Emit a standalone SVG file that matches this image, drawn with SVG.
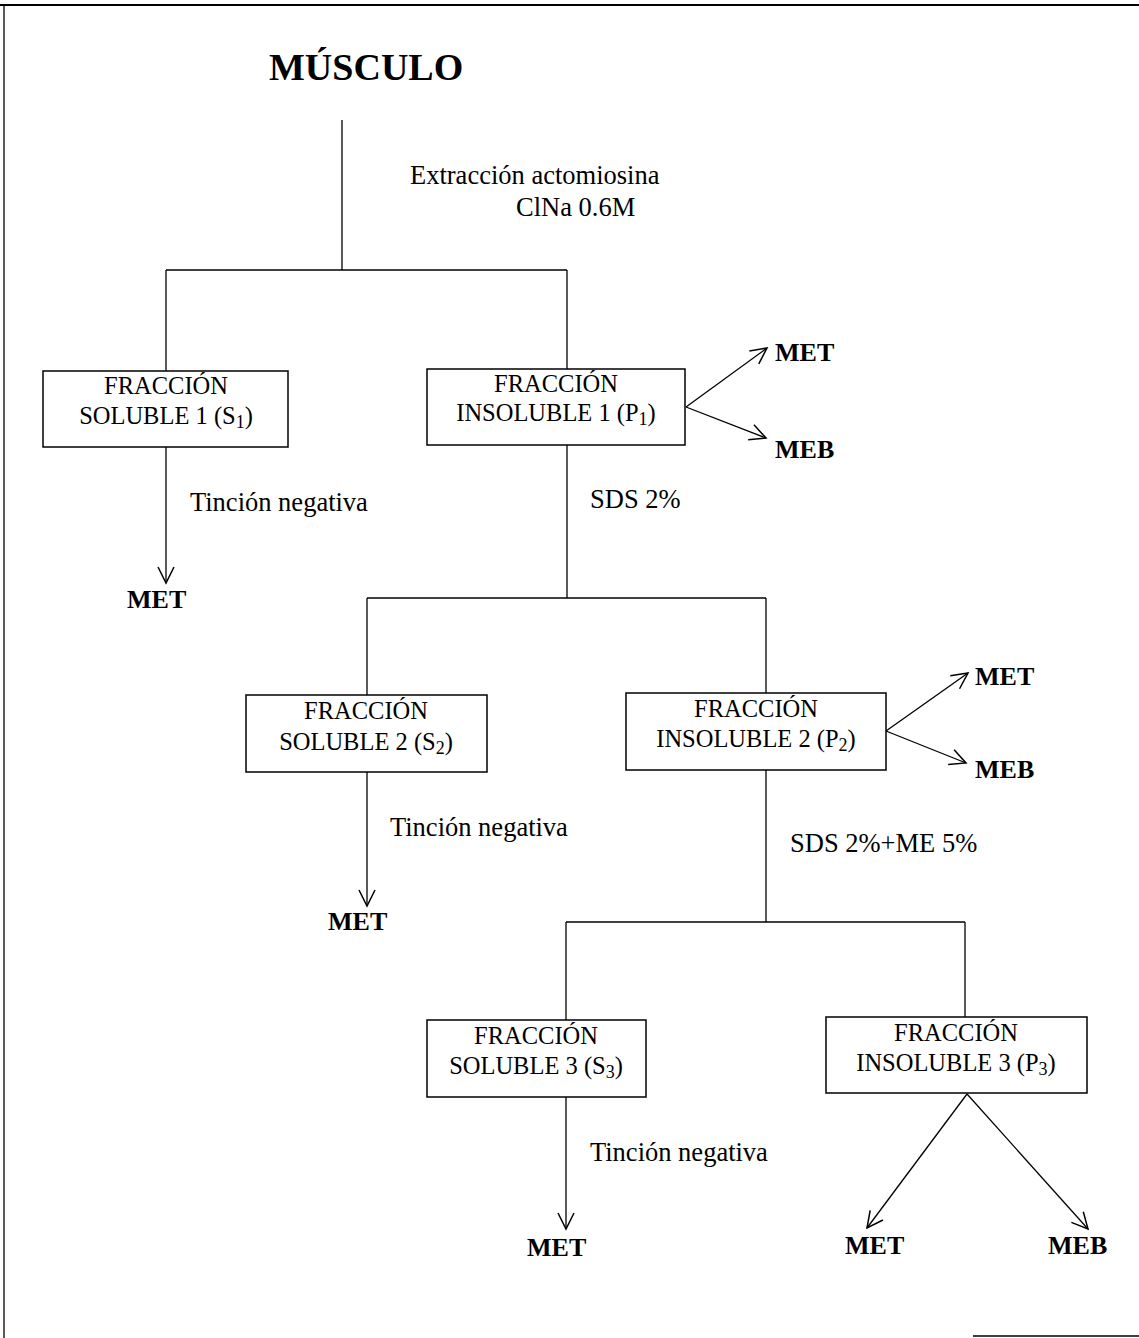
<svg xmlns="http://www.w3.org/2000/svg" width="1139" height="1338" viewBox="0 0 1139 1338">
<defs>
<marker id="ah" viewBox="0 0 20 20" refX="18" refY="10" markerWidth="20" markerHeight="20" markerUnits="userSpaceOnUse" orient="auto">
<path d="M2,2 L18,10 L2,18" fill="none" stroke="#000" stroke-width="1.5"/>
</marker>
<style>
.t{font-family:"Liberation Serif","Times New Roman",serif;font-size:26.5px;fill:#000}
.bx{font-family:"Liberation Serif","Times New Roman",serif;font-size:24.5px;fill:#000}
.b{font-family:"Liberation Serif","Times New Roman",serif;font-size:26px;font-weight:bold;fill:#000}
.box{fill:#fff;stroke:#000;stroke-width:1.5}
.ln{stroke:#000;stroke-width:1.3;fill:none}
.ar{stroke:#000;stroke-width:1.3;fill:none;marker-end:url(#ah)}
.sub{font-size:18px}
</style>
</defs>
<rect width="1139" height="1338" fill="#fff"/>
<g id="border" stroke="#000" fill="none">
<line x1="0" y1="5" x2="1139" y2="5" stroke-width="2"/>
<line x1="4" y1="5" x2="4" y2="1338" stroke-width="1.3"/>
<line x1="973" y1="1336" x2="1139" y2="1336" stroke-width="1.3"/>
</g>
<g id="connectors">
<line class="ln" x1="342" y1="120" x2="342" y2="270"/>
<line class="ln" x1="166" y1="270" x2="567" y2="270"/>
<line class="ln" x1="166" y1="270" x2="166" y2="371"/>
<line class="ln" x1="567" y1="270" x2="567" y2="369"/>
<line class="ar" x1="686" y1="407" x2="767" y2="348"/>
<line class="ar" x1="686" y1="407" x2="766" y2="438"/>
<line class="ar" x1="166" y1="447" x2="166" y2="583"/>
<line class="ln" x1="567" y1="445" x2="567" y2="598"/>
<line class="ln" x1="367" y1="598" x2="766" y2="598"/>
<line class="ln" x1="367" y1="598" x2="367" y2="695"/>
<line class="ln" x1="766" y1="598" x2="766" y2="693"/>
<line class="ar" x1="886" y1="731" x2="968" y2="673"/>
<line class="ar" x1="886" y1="731" x2="966" y2="763"/>
<line class="ar" x1="367" y1="772" x2="367" y2="906"/>
<line class="ln" x1="766" y1="770" x2="766" y2="922"/>
<line class="ln" x1="566" y1="922" x2="965" y2="922"/>
<line class="ln" x1="566" y1="922" x2="566" y2="1020"/>
<line class="ln" x1="965" y1="922" x2="965" y2="1017"/>
<line class="ar" x1="566" y1="1097" x2="566" y2="1229"/>
<line class="ar" x1="967" y1="1094" x2="867" y2="1228"/>
<line class="ar" x1="967" y1="1094" x2="1088" y2="1229"/>
</g>
<g id="labels">
<text class="b" x="269" y="80" style="font-size:38px">MÚSCULO</text>
<text class="t" x="410" y="184">Extracción actomiosina</text>
<text class="t" x="516" y="216">ClNa 0.6M</text>
<text class="t" x="190" y="511">Tinción negativa</text>
<text class="t" x="590" y="508">SDS 2%</text>
<text class="t" x="390" y="836">Tinción negativa</text>
<text class="t" x="790" y="852">SDS 2%+ME 5%</text>
<text class="t" x="590" y="1161">Tinción negativa</text>
<text class="b" x="775" y="361">MET</text>
<text class="b" x="775" y="458">MEB</text>
<text class="b" x="127" y="608">MET</text>
<text class="b" x="975" y="685">MET</text>
<text class="b" x="975" y="778">MEB</text>
<text class="b" x="328" y="930">MET</text>
<text class="b" x="527" y="1256">MET</text>
<text class="b" x="845" y="1254">MET</text>
<text class="b" x="1048" y="1254">MEB</text>
</g>
<g id="s1">
<rect class="box" x="43" y="371" width="245" height="76"/>
<text class="bx" x="166" y="394" text-anchor="middle">FRACCIÓN</text>
<text class="bx" x="166" y="424" text-anchor="middle">SOLUBLE 1 (S<tspan class="sub" dy="4">1</tspan><tspan dy="-4">)</tspan></text>
</g>
<g id="p1">
<rect class="box" x="427" y="369" width="258" height="76"/>
<text class="bx" x="556" y="392" text-anchor="middle">FRACCIÓN</text>
<text class="bx" x="556" y="421" text-anchor="middle">INSOLUBLE 1 (P<tspan class="sub" dy="4">1</tspan><tspan dy="-4">)</tspan></text>
</g>
<g id="s2">
<rect class="box" x="246" y="695" width="241" height="77"/>
<text class="bx" x="366" y="719" text-anchor="middle">FRACCIÓN</text>
<text class="bx" x="366" y="750" text-anchor="middle">SOLUBLE 2 (S<tspan class="sub" dy="4">2</tspan><tspan dy="-4">)</tspan></text>
</g>
<g id="p2">
<rect class="box" x="626" y="693" width="260" height="77"/>
<text class="bx" x="756" y="717" text-anchor="middle">FRACCIÓN</text>
<text class="bx" x="756" y="747" text-anchor="middle">INSOLUBLE 2 (P<tspan class="sub" dy="4">2</tspan><tspan dy="-4">)</tspan></text>
</g>
<g id="s3">
<rect class="box" x="427" y="1020" width="219" height="77"/>
<text class="bx" x="536" y="1044" text-anchor="middle">FRACCIÓN</text>
<text class="bx" x="536" y="1074" text-anchor="middle">SOLUBLE 3 (S<tspan class="sub" dy="4">3</tspan><tspan dy="-4">)</tspan></text>
</g>
<g id="p3">
<rect class="box" x="826" y="1017" width="261" height="76"/>
<text class="bx" x="956" y="1041" text-anchor="middle">FRACCIÓN</text>
<text class="bx" x="956" y="1071" text-anchor="middle">INSOLUBLE 3 (P<tspan class="sub" dy="4">3</tspan><tspan dy="-4">)</tspan></text>
</g>
</svg>
